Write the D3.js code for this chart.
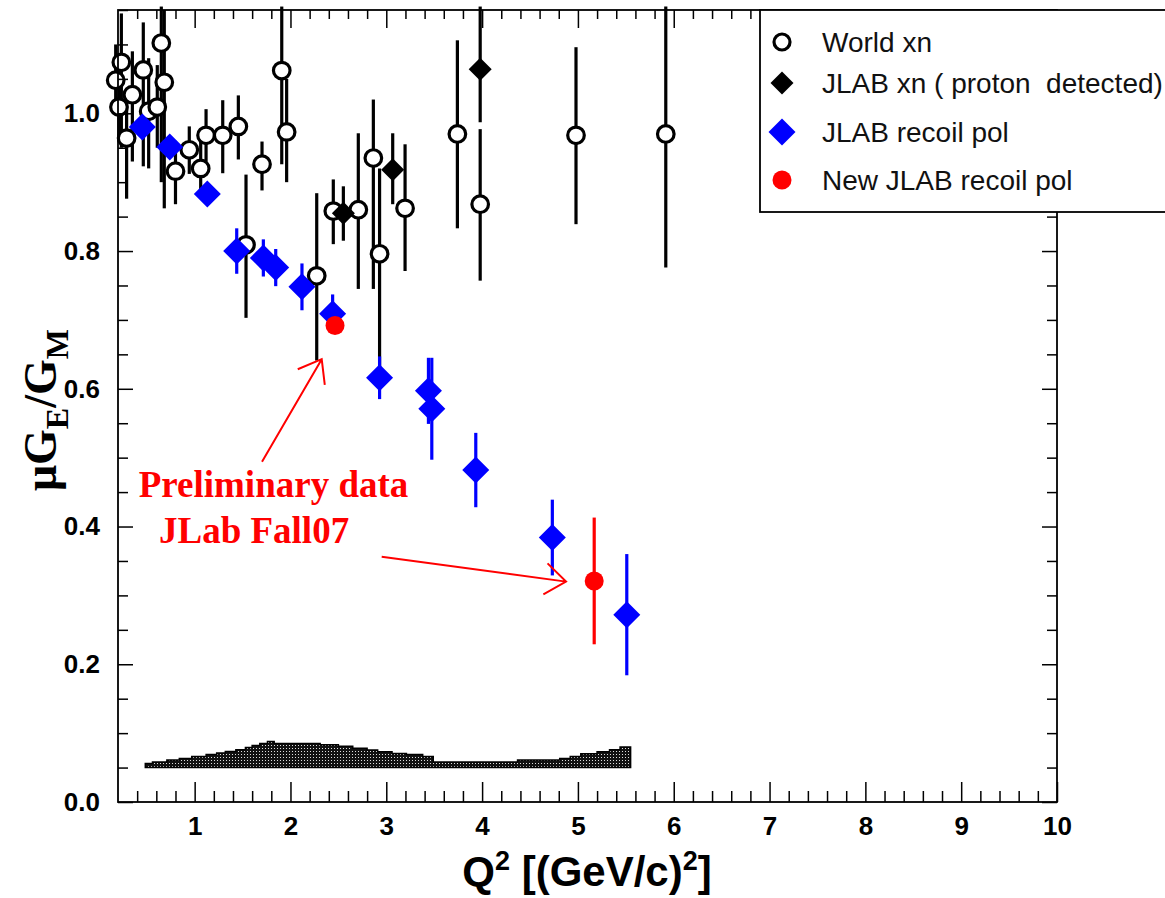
<!DOCTYPE html>
<html>
<head>
<meta charset="utf-8">
<script src="https://cdn.jsdelivr.net/npm/d3@7"></script>
<style>
  body { margin: 0; background: #fff; }
  text { font-family: "Liberation Sans", Arial, sans-serif; }
</style>
</head>
<body>
<div class="draw"></div>
<script>
const width = 1165
const height = 898
const margin = {left: 118, right: 108, top: 10, bottom: 96}

// World xn (open circles): Q2, value, bar top, bar bottom
const worldQ2   = [0.176, 0.21, 0.235, 0.29, 0.35, 0.464, 0.52, 0.61, 0.652, 0.683, 0.80, 0.944, 1.063, 1.119, 1.293, 1.456, 1.536, 1.703, 1.909, 1.96, 2.274, 2.447, 2.708, 2.865, 2.93, 3.196, 3.742, 3.98, 4.98, 5.917]
const worldVal  = [1.048, 1.009, 1.074, 0.964, 1.027, 1.063, 1.003, 1.009, 1.102, 1.045, 0.916, 0.947, 0.920, 0.968, 0.968, 0.981, 0.809, 0.926, 1.062, 0.973, 0.764, 0.858, 0.860, 0.935, 0.796, 0.862, 0.970, 0.868, 0.968, 0.970]
const worldHi   = [1.10, 1.06, 1.145, 1.02, 1.09, 1.132, 1.08, 1.07, 1.155, 1.15, 0.96, 0.981, 0.97, 1.006, 1.019, 1.026, 0.911, 0.959, 1.155, 1.05, 0.884, 0.904, 0.971, 1.02, 0.92, 0.955, 1.106, 0.977, 1.096, 1.155]
const worldLo   = [1.00, 0.96, 0.95, 0.876, 0.93, 0.923, 0.92, 0.95, 0.90, 0.862, 0.868, 0.912, 0.88, 0.93, 0.913, 0.933, 0.703, 0.888, 0.926, 0.90, 0.641, 0.81, 0.745, 0.745, 0.60, 0.771, 0.833, 0.757, 0.839, 0.776]

// JLAB xn (proton detected)
const xnQ2  = [2.552, 3.067, 3.98]
const xnVal = [0.855, 0.918, 1.064]
const xnHi  = [0.894, 0.971, 1.155]
const xnLo  = [0.815, 0.868, 0.987]

// JLAB recoil pol
const recQ2  = [0.454, 0.74, 1.132, 1.439, 1.717, 1.846, 2.12, 2.44, 2.93, 3.44, 3.475, 3.934, 4.733, 5.51]
const recVal = [0.980, 0.951, 0.883, 0.800, 0.790, 0.776, 0.748, 0.709, 0.616, 0.597, 0.571, 0.482, 0.384, 0.272]
const recErr = [0.015, 0.015, 0.010, 0.033, 0.027, 0.027, 0.034, 0.028, 0.031, 0.048, 0.074, 0.054, 0.055, 0.088]

// New JLAB recoil pol
const newQ2  = [2.465, 5.17]
const newVal = [0.692, 0.321]
const newErr = [0.010, 0.092]

// systematic error band (step histogram): bin edges and top of each bin, base at 0.05
const bandEdges = [0.485, 0.56, 0.71, 0.84, 0.97, 1.12, 1.23, 1.32, 1.43, 1.53, 1.60, 1.68, 1.76, 1.83, 2.31, 2.50, 2.65, 2.80, 2.91, 3.06, 3.21, 3.38, 3.49, 4.37, 4.81, 4.92, 5.03, 5.20, 5.33, 5.44, 5.55]
const bandTop   = [0.056, 0.058, 0.061, 0.063, 0.066, 0.069, 0.071, 0.0735, 0.076, 0.079, 0.082, 0.085, 0.088, 0.085, 0.083, 0.081, 0.078, 0.0755, 0.073, 0.0706, 0.069, 0.066, 0.058, 0.061, 0.063, 0.066, 0.070, 0.073, 0.076, 0.080]
const bandBase = 0.05

const xTicks = [1, 2, 3, 4, 5, 6, 7, 8, 9, 10]
const yTicks = [0.0, 0.2, 0.4, 0.6, 0.8, 1.0]

const legendLabels = ["World xn", "JLAB xn ( proton  detected)", "JLAB recoil pol", "New JLAB recoil pol"]

// annotation: text + arrows (data coordinates)
const noteLines = [{text: "Preliminary data", q: 1.823, v: 0.443}, {text: "JLab Fall07", q: 1.62, v: 0.376}]
const noteArrows = [{from: [1.703, 0.494], to: [2.326, 0.643]}, {from: [2.952, 0.356], to: [4.876, 0.320]}]

let svg = d3.select("div.draw")
    .append("svg")
    .attr("width", width)
    .attr("height", height)

const x = d3.scaleLinear().domain([0.2, 10]).range([margin.left, width - margin.right])
const y = d3.scaleLinear().domain([0, 1.15]).range([height - margin.bottom, margin.top])

const plotL = x.range()[0], plotR = x.range()[1]
const plotT = y.range()[1], plotB = y.range()[0]

function diamond(h){
  return "M0," + (-h) + "L" + h + ",0L0," + h + "L" + (-h) + ",0Z"
}

// dotted fill pattern for the band
let pat = svg.append("defs").append("pattern")
    .attr("id", "dots")
    .attr("width", 3).attr("height", 3)
    .attr("patternUnits", "userSpaceOnUse")
pat.append("rect").attr("width", 3).attr("height", 3).attr("fill", "#111")
pat.append("rect").attr("x", 1).attr("y", 1).attr("width", 1).attr("height", 1).attr("fill", "#ddd")

// band
let bandPts = bandTop.map((t, i) => [bandEdges[i], t])
bandPts.push([bandEdges[bandEdges.length - 1], bandTop[bandTop.length - 1]])
svg.append("path")
    .datum(bandPts)
    .attr("fill", "url(#dots)")
    .attr("stroke", "#000")
    .attr("stroke-width", 1.5)
    .attr("d", d3.area().curve(d3.curveStepAfter)
      .x(d => x(d[0])).y0(y(bandBase)).y1(d => y(d[1])))

function drawSeries(q, lo, hi, color, cls){
  svg.append("g").attr("class", cls + "-err")
    .selectAll("line")
    .data(q)
    .enter()
    .append("line")
    .attr("x1", d => x(d)).attr("x2", d => x(d))
    .attr("y1", (d, i) => y(lo[i]))
    .attr("y2", (d, i) => y(hi[i]))
    .attr("stroke", color)
    .attr("stroke-width", 3.2)
}

// World xn
drawSeries(worldQ2, worldLo, worldHi, "#000", "world")
svg.append("g").selectAll("circle")
    .data(worldQ2)
    .enter()
    .append("circle")
    .attr("cx", d => x(d))
    .attr("cy", (d, i) => y(worldVal[i]))
    .attr("r", 8.3)
    .attr("fill", "#fff")
    .attr("stroke", "#000")
    .attr("stroke-width", 3.2)

// JLAB xn
drawSeries(xnQ2, xnLo, xnHi, "#000", "xn")
svg.append("g").selectAll("path")
    .data(xnQ2)
    .enter()
    .append("path")
    .attr("transform", (d, i) => "translate(" + x(d) + "," + y(xnVal[i]) + ")")
    .attr("d", diamond(11.5))
    .attr("fill", "#000")

// JLAB recoil pol
drawSeries(recQ2, recVal.map((v, i) => v - recErr[i]), recVal.map((v, i) => v + recErr[i]), "#0000ff", "rec")
svg.append("g").selectAll("path")
    .data(recQ2)
    .enter()
    .append("path")
    .attr("transform", (d, i) => "translate(" + x(d) + "," + y(recVal[i]) + ")")
    .attr("d", diamond(13.5))
    .attr("fill", "#0000ff")

// New JLAB recoil pol
drawSeries(newQ2, newVal.map((v, i) => v - newErr[i]), newVal.map((v, i) => v + newErr[i]), "#ff0000", "new")
svg.append("g").selectAll("circle")
    .data(newQ2)
    .enter()
    .append("circle")
    .attr("cx", d => x(d))
    .attr("cy", (d, i) => y(newVal[i]))
    .attr("r", 9.5)
    .attr("fill", "#ff0000")

// annotation
svg.append("g").selectAll("text")
    .data(noteLines)
    .enter()
    .append("text")
    .attr("x", d => x(d.q))
    .attr("y", d => y(d.v))
    .attr("text-anchor", "middle")
    .style("font-family", "'Liberation Serif', 'Times New Roman', serif")
    .style("font-weight", "bold")
    .style("font-size", "37px")
    .attr("fill", "#ff0000")
    .text(d => d.text)

noteArrows.forEach(a => {
  let x1 = x(a.from[0]), y1 = y(a.from[1]), x2 = x(a.to[0]), y2 = y(a.to[1])
  let ang = Math.atan2(y1 - y2, x1 - x2)
  let headLen = 26, spread = 37 * Math.PI / 180
  let p = d3.path()
  p.moveTo(x1, y1)
  p.lineTo(x2, y2)
  p.moveTo(x2 + headLen * Math.cos(ang + spread), y2 + headLen * Math.sin(ang + spread))
  p.lineTo(x2, y2)
  p.lineTo(x2 + headLen * Math.cos(ang - spread), y2 + headLen * Math.sin(ang - spread))
  svg.append("path")
    .attr("d", p.toString())
    .attr("fill", "none")
    .attr("stroke", "#ff0000")
    .attr("stroke-width", 2)
})

// axes: ticks on all four sides, pointing inward
const xMinor = d3.range(0.4, 10.001, 0.2).filter(v => Math.abs(v - Math.round(v)) > 0.01)
const yMinor = d3.range(0.05, 1.151, 0.05).filter(v => Math.abs(v * 5 - Math.round(v * 5)) > 0.01)

function styleAxis(g){
  g.select(".domain").remove()
  g.selectAll("line").attr("stroke", "#000").attr("stroke-width", 1.5)
  g.selectAll("text")
    .attr("fill", "#000")
    .style("font-family", "'Liberation Sans', Arial, sans-serif")
    .style("font-weight", "bold")
    .style("font-size", "26px")
}

svg.append("g").attr("transform", "translate(0," + plotB + ")")
    .call(d3.axisBottom(x).tickValues(xTicks).tickSize(-20).tickPadding(15).tickFormat(d3.format("d")))
    .call(styleAxis)
svg.append("g").attr("transform", "translate(0," + plotB + ")")
    .call(d3.axisBottom(x).tickValues(xMinor).tickSize(-11).tickFormat(""))
    .call(styleAxis)
svg.append("g").attr("transform", "translate(0," + plotT + ")")
    .call(d3.axisTop(x).tickValues(xTicks).tickSize(-18).tickFormat(""))
    .call(styleAxis)
svg.append("g").attr("transform", "translate(0," + plotT + ")")
    .call(d3.axisTop(x).tickValues(xMinor).tickSize(-9).tickFormat(""))
    .call(styleAxis)

svg.append("g").attr("transform", "translate(" + plotL + ",0)")
    .call(d3.axisLeft(y).tickValues(yTicks).tickSize(-15).tickPadding(18).tickFormat(d3.format(".1f")))
    .call(styleAxis)
svg.append("g").attr("transform", "translate(" + plotL + ",0)")
    .call(d3.axisLeft(y).tickValues(yMinor).tickSize(-10).tickFormat(""))
    .call(styleAxis)
svg.append("g").attr("transform", "translate(" + plotR + ",0)")
    .call(d3.axisRight(y).tickValues(yTicks).tickSize(-15).tickFormat(""))
    .call(styleAxis)
svg.append("g").attr("transform", "translate(" + plotR + ",0)")
    .call(d3.axisRight(y).tickValues(yMinor).tickSize(-10).tickFormat(""))
    .call(styleAxis)

// frame
svg.append("rect")
    .attr("x", plotL).attr("y", plotT)
    .attr("width", plotR - plotL).attr("height", plotB - plotT)
    .attr("fill", "none")
    .attr("stroke", "#000")
    .attr("stroke-width", 1.8)

// axis titles
let xt = svg.append("text")
    .attr("x", 587).attr("y", 886)
    .attr("text-anchor", "middle")
    .style("font-weight", "bold")
    .style("font-size", "42px")
    .attr("fill", "#000")
xt.append("tspan").text("Q")
xt.append("tspan").attr("dy", -16).style("font-size", "27px").text("2")
xt.append("tspan").attr("dy", 16).text(" [(GeV/c)")
xt.append("tspan").attr("dy", -16).style("font-size", "27px").text("2")
xt.append("tspan").attr("dy", 16).text("]")

let yt = svg.append("text")
    .attr("transform", "translate(56,410) rotate(-90)")
    .attr("text-anchor", "middle")
    .style("font-family", "'Liberation Serif', 'Times New Roman', serif")
    .style("font-weight", "bold")
    .style("font-size", "46px")
    .attr("fill", "#000")
yt.append("tspan").text("\u03bcG")
yt.append("tspan").attr("dy", 12).style("font-size", "32px").text("E")
yt.append("tspan").attr("dy", -12).text("/G")
yt.append("tspan").attr("dy", 12).style("font-size", "32px").text("M")

// legend
let lg = svg.append("g")
lg.append("rect")
    .attr("x", 760).attr("y", 10)
    .attr("width", 420).attr("height", 202)
    .attr("fill", "#fff")
    .attr("stroke", "#000")
    .attr("stroke-width", 1.8)

const legendY = [42, 83, 132, 180]
const lx = 782
lg.append("circle").attr("cx", lx).attr("cy", legendY[0]).attr("r", 8)
    .attr("fill", "#fff").attr("stroke", "#000").attr("stroke-width", 3.2)
lg.append("path").attr("transform", "translate(" + lx + "," + legendY[1] + ")")
    .attr("d", diamond(11.5)).attr("fill", "#000")
lg.append("path").attr("transform", "translate(" + lx + "," + legendY[2] + ")")
    .attr("d", diamond(13.5)).attr("fill", "#0000ff")
lg.append("circle").attr("cx", lx).attr("cy", legendY[3]).attr("r", 9.5)
    .attr("fill", "#ff0000")

lg.selectAll("text.leg")
    .data(legendLabels)
    .enter()
    .append("text")
    .attr("class", "leg")
    .attr("x", 822)
    .attr("y", (d, i) => legendY[i] + 10)
    .attr("fill", "#111")
    .style("font-size", "28px")
    .style("white-space", "pre")
    .text(d => d)
</script>
</body>
</html>
